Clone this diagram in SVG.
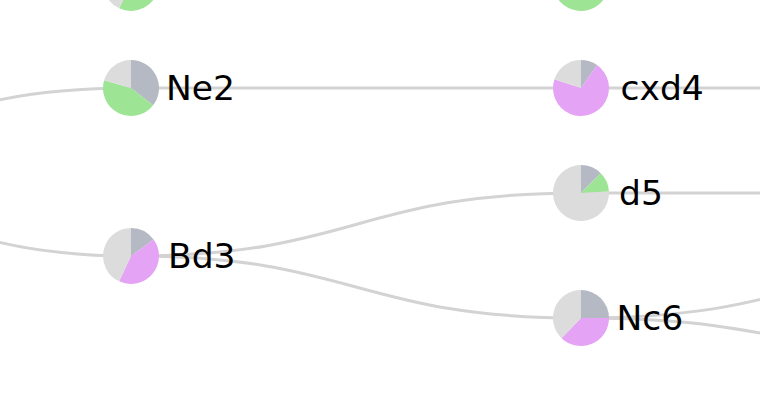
<svg xmlns="http://www.w3.org/2000/svg" width="760" height="402" viewBox="0 0 760 402">
<style>
.e{fill:none;stroke:#d3d3d3;stroke-width:3}
.gb{fill:#b4b9c3}
.lg{fill:#dcdcdc}
.gr{fill:#9de594}
.pk{fill:#e4a3f5}
text{font-family:"DejaVu Sans","Liberation Sans",sans-serif;font-size:34.5px;fill:#000}
</style>
<rect width="760" height="402" fill="#fff"/>
<g id="edges">
<path class="e" d="M-319,166 C-94,166 -94,88 131,88"/>
<path class="e" d="M-319,166 C-94,166 -94,256 131,256"/>
<path class="e" d="M131,88 L581,88"/>
<path class="e" d="M581,88 L1031,88"/>
<path class="e" d="M131,256 C356,256 356,193 581,193"/>
<path class="e" d="M131,256 C356,256 356,318 581,318"/>
<path class="e" d="M581,193 L1031,193"/>
<path class="e" d="M581,318 C806,318 806,258 1031,258"/>
<path class="e" d="M581,318 C806,318 806,367 1031,367"/>
</g>
<g id="node-top-left">
<path class="gb" d="M131,-17 L131,-45 A28,28 0 0 1 158.58,-12.14 Z"/>
<path class="gr" d="M131,-17 L158.58,-12.14 A28,28 0 0 1 119.17,8.37 Z"/>
<path class="lg" d="M131,-17 L119.17,8.37 A28,28 0 0 1 131,-45 Z"/>
</g>
<g id="node-top-right">
<path class="gb" d="M581,-17 L581,-45 A28,28 0 0 1 599,-38.45 Z"/>
<path class="gr" d="M581,-17 L599,-38.45 A28,28 0 1 1 554.69,-26.58 Z"/>
<path class="lg" d="M581,-17 L554.69,-26.58 A28,28 0 0 1 581,-45 Z"/>
</g>
<g id="node-Ne2">
<path class="gb" d="M131,88 L131,60 A28,28 0 0 1 153.06,105.24 Z"/>
<path class="gr" d="M131,88 L153.06,105.24 A28,28 0 0 1 104.08,80.28 Z"/>
<path class="lg" d="M131,88 L104.08,80.28 A28,28 0 0 1 131,60 Z"/>
<text x="166" y="99.5">Ne2</text>
</g>
<g id="node-cxd4">
<path class="gb" d="M581,88 L581,60 A28,28 0 0 1 597.06,65.07 Z"/>
<path class="pk" d="M581,88 L597.06,65.07 A28,28 0 1 1 554.37,79.35 Z"/>
<path class="lg" d="M581,88 L554.37,79.35 A28,28 0 0 1 581,60 Z"/>
<text x="620.5" y="99.5">cxd4</text>
</g>
<g id="node-Bd3">
<path class="gb" d="M131,256 L131,228 A28,28 0 0 1 153.65,239.54 Z"/>
<path class="pk" d="M131,256 L153.65,239.54 A28,28 0 0 1 119.17,281.37 Z"/>
<path class="lg" d="M131,256 L119.17,281.37 A28,28 0 0 1 131,228 Z"/>
<text x="168" y="267.5">Bd3</text>
</g>
<g id="node-d5">
<path class="gb" d="M581,193 L581,165 A28,28 0 0 1 600.8,173.2 Z"/>
<path class="gr" d="M581,193 L600.8,173.2 A28,28 0 0 1 608.96,191.54 Z"/>
<path class="lg" d="M581,193 L608.96,191.54 A28,28 0 1 1 581,165 Z"/>
<text x="619" y="204.5">d5</text>
</g>
<g id="node-Nc6">
<path class="gb" d="M581,318 L581,290 A28,28 0 0 1 609,318 Z"/>
<path class="pk" d="M581,318 L609,318 A28,28 0 0 1 561.55,338.14 Z"/>
<path class="lg" d="M581,318 L561.55,338.14 A28,28 0 0 1 581,290 Z"/>
<text x="616.5" y="329.5">Nc6</text>
</g>
</svg>
